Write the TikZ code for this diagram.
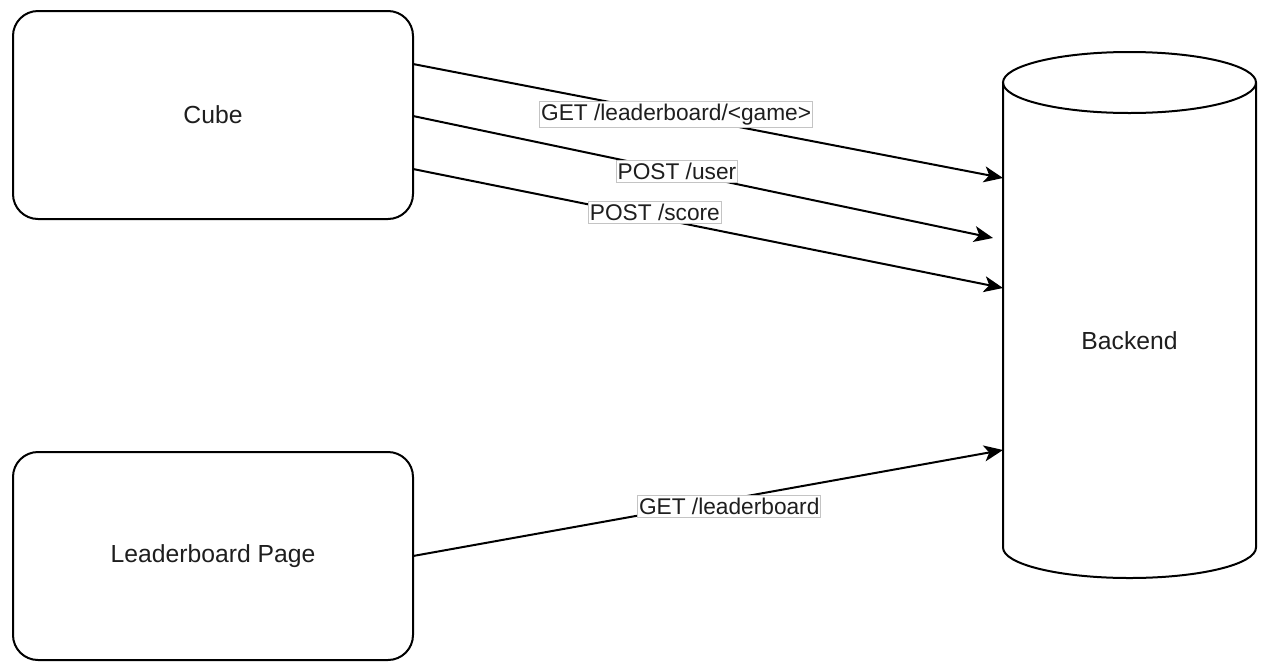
\documentclass[tikz,border=0pt]{standalone}
\usepackage{fontspec}
\setmainfont{Liberation Sans}
\usetikzlibrary{arrows.meta,calc}
\definecolor{txt}{HTML}{1E1E1E}
\definecolor{lblborder}{HTML}{C4C4C4}
\tikzset{
  box/.style={draw, line width=2pt, rounded corners=25pt, outer sep=0pt,
    minimum width=400, minimum height=208, text=txt,
    font=\fontsize{24.7}{28}\selectfont},
  flow/.style={line width=2pt, -{Stealth[length=19pt, width=16pt, inset=5pt]}},
  lbl/.style={fill=white, draw=lblborder, line width=1pt, inner xsep=1.5pt,
    inner ysep=2.5pt, text=txt, font=\fontsize{22.7}{26}\selectfont},
}
\begin{document}
\begin{tikzpicture}[x=1pt, y=-1pt]
\useasboundingbox (0,0) rectangle (1266,662);

% clients
\node[box] (cube) at (213,115) {Cube};
\node[box] (lbpage) at (213,556) {Leaderboard Page};

% backend store, drawn as a cylinder around an invisible frame
\node[minimum width=253, minimum height=526, outer sep=0pt, inner sep=0pt,
  anchor=north west] (backend) at (1003,52) {};
\draw[line width=2pt]
  ($(backend.north west)+(0,30.5)$) -- ($(backend.south west)+(0,-30.5)$)
  arc[start angle=180, end angle=360, x radius=126.5pt, y radius=30.5pt]
  -- ($(backend.north east)+(0,30.5)$);
\draw[line width=2pt] ($(backend.north)+(0,30.5)$)
  ellipse[x radius=126.5pt, y radius=30.5pt];
\node[text=txt, font=\fontsize{24.7}{28}\selectfont] (backendtext)
  at ($(backend.center)+(0,26)$) {Backend};

% requests
\draw[flow] ($(cube.north east)+(0,53)$) -- ($(backend.north west)+(0,126)$)
  node[lbl, pos=0.446] (l1) {GET /leaderboard/<game>};
\draw[flow] ($(cube.north east)+(0,105)$) -- ($(backend.north west)+(-10,186)$)
  node[lbl, pos=0.455] (l2) {POST /user};
\draw[flow] ($(cube.north east)+(0,158)$) -- ($(backend.north west)+(0,236)$)
  node[lbl, pos=0.41, yshift=5] (l3) {POST /score};
\draw[flow] (lbpage.east) -- ($(backend.north west)+(0,398)$)
  node[lbl, pos=0.536, yshift=-7] (l4) {GET /leaderboard};
\end{tikzpicture}
\end{document}
